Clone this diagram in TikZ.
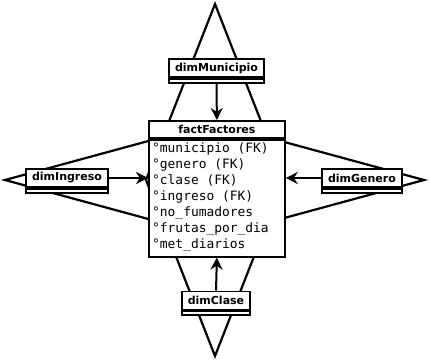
\documentclass[tikz,border=0pt]{standalone}
\usepackage{fontspec}
\usetikzlibrary{arrows.meta}
\newfontfamily\dejasans{DejaVu Sans}
\newfontfamily\dejamono{DejaVu Sans Mono}
\begin{document}
\begin{tikzpicture}[x=1pt,y=-1pt,
  ln/.style={line width=2.2pt},
  tbox/.style={draw, line width=1.8pt, fill=white, inner sep=0pt,
    font=\dejasans\bfseries\fontsize{11}{13}\selectfont},
  abox/.style={draw, line width=1.8pt, fill=white, inner sep=0pt, minimum height=4pt, anchor=north},
  arr/.style={line width=2pt, -{Stealth[length=12pt,width=12pt]}},
  row/.style={anchor=base west, inner sep=0pt, font=\dejamono\fontsize{12.9}{15}\selectfont}]
\useasboundingbox (0,0) rectangle (429,360);
% kites
\coordinate (topapex) at (215,4);
\coordinate (botapex) at (215,356);
\coordinate (lftapex) at (5,180);
\coordinate (rgtapex) at (424,180);
\draw[ln] (topapex) -- (284,180) -- (botapex) -- (146,180) -- cycle;
\draw[ln] (lftapex) -- (214.5,123) -- (rgtapex) -- (214.5,237) -- cycle;
% fact table
\node[tbox, minimum width=136pt, minimum height=17pt, anchor=north west] (facttitle) at (148,120) {factFactores};
\node[tbox, minimum width=136pt, minimum height=117pt, anchor=north] (factbody) at (facttitle.south) {};
\node[row] (r1) at (152,152.5) {°municipio (FK)};
\node[row] (r2) at (152,168.5) {°genero (FK)};
\node[row] (r3) at (152,184.5) {°clase (FK)};
\node[row] (r4) at (152,200.5) {°ingreso (FK)};
\node[row] (r5) at (152,216.5) {°no\_fumadores};
\node[row] (r6) at (152,232.5) {°frutas\_por\_dia};
\node[row] (r7) at (152,248.5) {°met\_diarios};
% dimension tables
\node[tbox, minimum width=95pt, minimum height=18pt] (muntitle) at (216.5,68) {dimMunicipio};
\node[abox, minimum width=95pt] (munattr) at (muntitle.south) {};
\node[tbox, minimum width=82pt, minimum height=18pt] (ingtitle) at (67,178) {dimIngreso};
\node[abox, minimum width=82pt] (ingattr) at (ingtitle.south) {};
\node[tbox, minimum width=80pt, minimum height=18pt] (gentitle) at (362,178) {dimGenero};
\node[abox, minimum width=80pt] (genattr) at (gentitle.south) {};
\node[tbox, minimum width=68pt, minimum height=18pt] (clatitle) at (216,300.5) {dimClase};
\node[abox, minimum width=68pt] (claattr) at (clatitle.south) {};
% arrows
\draw[arr] (munattr.south) -- (facttitle.north);
\draw[arr] (clatitle.north) -- (factbody.south);
\draw[arr] (ingtitle.east) -- (ingtitle.east -| factbody.west);
\draw[arr] (gentitle.west) -- (gentitle.west -| factbody.east);
\end{tikzpicture}
\end{document}
